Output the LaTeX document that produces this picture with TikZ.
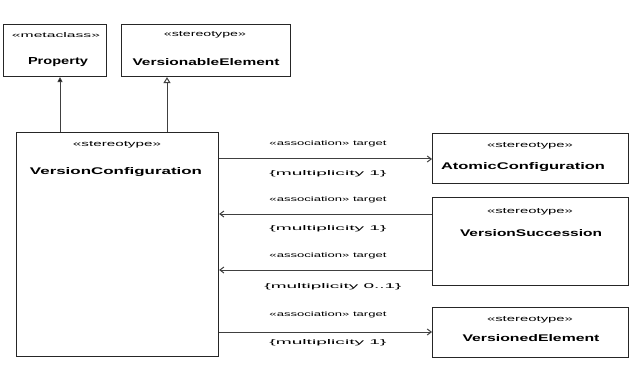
\documentclass[tikz,border=0pt]{standalone}
\usepackage{fontspec}
\usepackage{graphicx}
\setmainfont{Liberation Sans}
\usetikzlibrary{arrows.meta}
\newcommand{\fitbox}[3]{\resizebox{#1pt}{#2pt}{#3}}
\begin{document}
\begin{tikzpicture}[x=1pt,y=-1pt,
  box/.style={draw=black!85,line width=1.1pt,fill=white,inner sep=0pt,anchor=north west},
  ster/.style={font=\fontsize{6}{7}\selectfont,inner sep=0pt},
  nm/.style={font=\bfseries\fontsize{8}{9}\selectfont,inner sep=0pt},
  lbl/.style={font=\fontsize{6}{7}\selectfont,inner sep=0pt},
  conn/.style={draw=black!75,line width=1pt},
  assoc/.style={conn,-{Straight Barb[length=4pt,width=6pt]}},
  ext/.style={conn,-{Triangle[length=5pt,width=5pt,fill=black]}},
  gen/.style={conn,-{Triangle[open,length=6pt,width=7pt,fill=white]}}]
\useasboundingbox (0,0) rectangle (639,374);
% boxes
\node[box,minimum width=103pt,minimum height=52pt] (prop) at (3,24) {};
\node[box,minimum width=169pt,minimum height=52pt] (vel) at (121,24) {};
\node[box,minimum width=202pt,minimum height=224pt] (main) at (16,132) {};
\node[box,minimum width=196pt,minimum height=50pt] (r1) at (432,133) {};
\node[box,minimum width=196pt,minimum height=88pt] (r2) at (432,197) {};
\node[box,minimum width=196pt,minimum height=50pt] (r3) at (432,307) {};
% texts
\node[ster] (propS) at (56,35) {\fitbox{88}{5}{«metaclass»}};
\node[nm] (propN) at (58,62) {\fitbox{60}{7}{Property}};
\node[ster] (velS) at (205,35) {\fitbox{82}{5}{«stereotype»}};
\node[nm] (velN) at (206,62) {\fitbox{147}{7}{VersionableElement}};
\node[ster] (mainS) at (117,145) {\fitbox{88}{5}{«stereotype»}};
\node[nm] (mainN) at (116,172) {\fitbox{172}{7}{VersionConfiguration}};
\node[ster] (r1S) at (530,146) {\fitbox{86}{5}{«stereotype»}};
\node[nm] (r1N) at (523,167) {\fitbox{164}{7}{AtomicConfiguration}};
\node[ster] (r2S) at (530,212) {\fitbox{86}{5}{«stereotype»}};
\node[nm] (r2N) at (531,233) {\fitbox{142}{7}{VersionSuccession}};
\node[ster] (r3S) at (530,320) {\fitbox{86}{5}{«stereotype»}};
\node[nm] (r3N) at (531,338) {\fitbox{137}{7}{VersionedElement}};
% coordinates
\coordinate (y1) at (0,159);
\coordinate (y2) at (0,214);
\coordinate (y3) at (0,270);
\coordinate (y4) at (0,332);
\coordinate (xa) at (60,0);
\coordinate (xb) at (167,0);
% connectors
\draw[ext] (main.north -| xa) -- (prop.south -| xa);
\draw[gen] (main.north -| xb) -- (vel.south -| xb);
\draw[assoc] (main.east |- y1) -- (r1.west |- y1);
\draw[assoc] (r2.west |- y2) -- (main.east |- y2);
\draw[assoc] (r2.west |- y3) -- (main.east |- y3);
\draw[assoc] (main.east |- y4) -- (r3.west |- y4);
% labels
\node[lbl] (l1a) at (328,144) {\fitbox{117}{5}{«association» target}};
\node[lbl] (l1b) at (328,174) {\fitbox{117}{5}{\{multiplicity 1\}}};
\node[lbl] (l2a) at (328,200) {\fitbox{117}{5}{«association» target}};
\node[lbl] (l2b) at (328,229) {\fitbox{117}{5}{\{multiplicity 1\}}};
\node[lbl] (l3a) at (328,256) {\fitbox{117}{5}{«association» target}};
\node[lbl] (l3b) at (333,287) {\fitbox{137}{5}{\{multiplicity 0..1\}}};
\node[lbl] (l4a) at (328,315) {\fitbox{117}{5}{«association» target}};
\node[lbl] (l4b) at (328,343) {\fitbox{117}{5}{\{multiplicity 1\}}};
\end{tikzpicture}
\end{document}
